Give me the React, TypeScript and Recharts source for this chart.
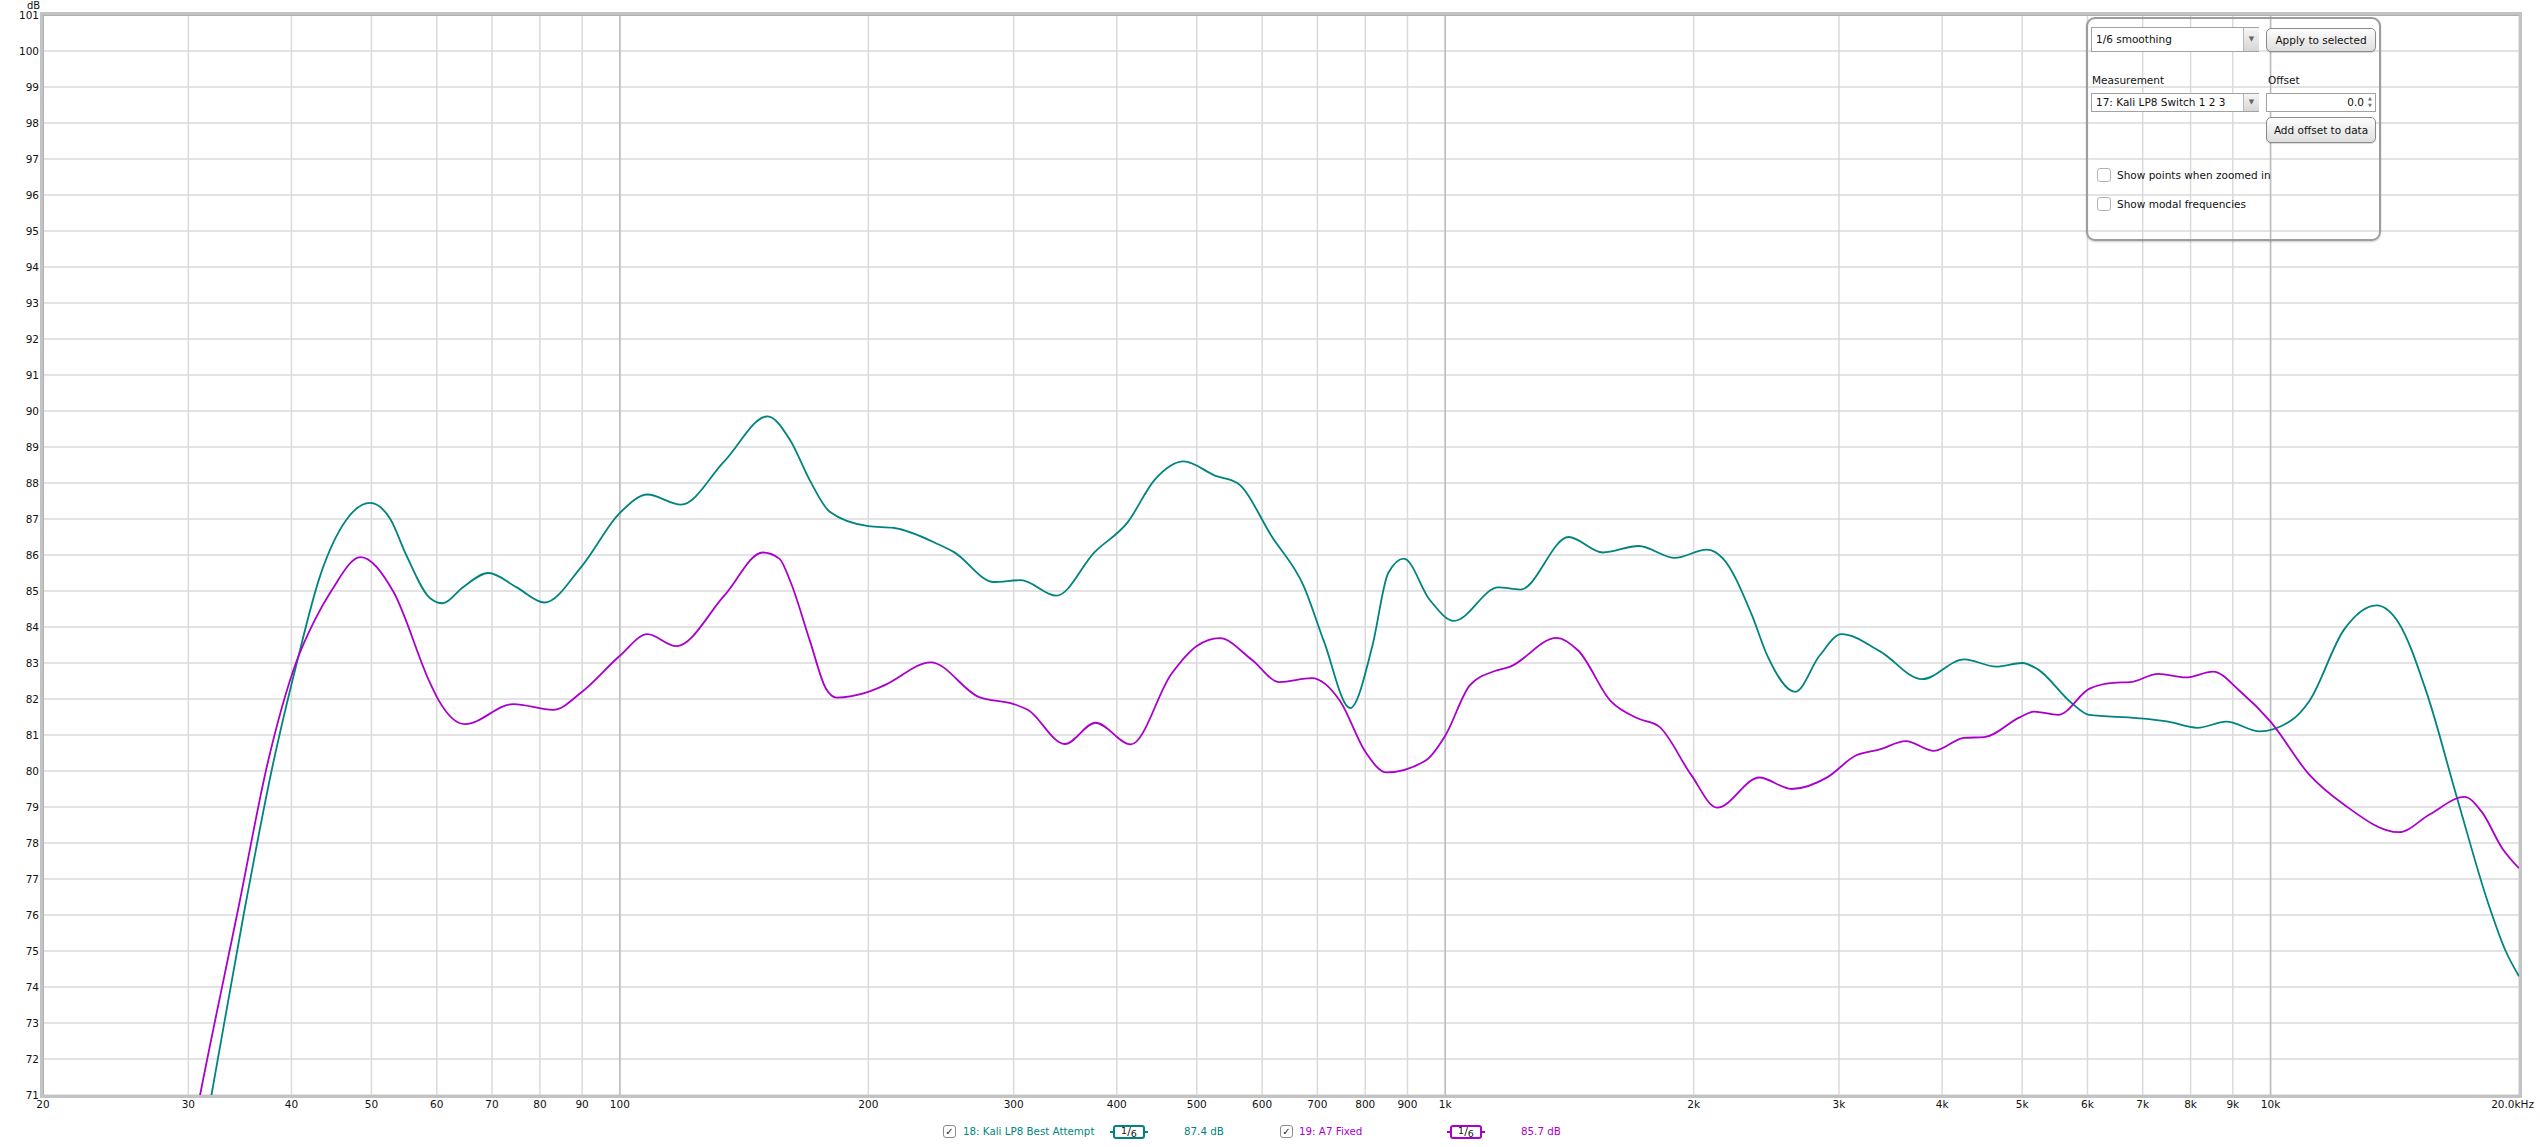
import React from 'react';
import { LineChart, Line, XAxis, YAxis, CartesianGrid, ReferenceLine } from 'recharts';

const kaliFreq = [30, 32, 35, 38, 40.6, 43.3, 46.7, 49.8, 52.7, 55.1, 58.9, 61, 64.5, 69.3, 75, 81, 90, 100, 108, 118.6, 133.8, 151, 160.7, 170, 179.6, 200, 215, 243, 254, 284, 306, 338, 376, 412, 445, 482, 527, 560, 617, 674, 713, 767, 816, 853, 891, 958, 1025, 1160, 1233, 1411, 1552, 1716, 1898, 2075, 2171, 2349, 2457, 2656, 2841, 3021, 3361, 3782, 4253, 4652, 5000, 5220, 5745, 6027, 6894, 7516, 8155, 8845, 9697, 10630, 11140, 12270, 13440, 14310, 15450, 16850, 18370, 19270, 20000];
const kaliDb = [67.5, 71.0, 76.0, 80.2, 83.0, 85.4, 87.0, 87.45, 87.0, 86.0, 84.8, 84.66, 85.1, 85.5, 85.1, 84.68, 85.7, 87.17, 87.68, 87.4, 88.6, 89.85, 89.2, 88.06, 87.2, 86.8, 86.75, 86.3, 86.08, 85.25, 85.3, 84.87, 86.08, 86.9, 88.1, 88.6, 88.2, 88.0, 86.5, 85.13, 83.6, 81.75, 83.47, 85.5, 85.9, 84.75, 84.17, 85.1, 85.04, 86.5, 86.07, 86.25, 85.92, 86.15, 85.9, 84.37, 83.2, 82.2, 83.2, 83.8, 83.33, 82.55, 83.1, 82.9, 83.0, 82.83, 81.88, 81.56, 81.47, 81.37, 81.2, 81.37, 81.1, 81.43, 81.94, 83.92, 84.6, 84.1, 82.19, 79.2, 76.3, 75.0, 74.3];

const a7Freq = [30, 31, 34.5, 37.5, 40.5, 42.7, 44.7, 48.5, 53.1, 58.9, 60.4, 64.9, 74.3, 83, 90, 100, 108, 117, 133.8, 149, 156, 161, 170, 177.6, 183, 200, 210, 238, 272, 300, 312, 346, 377, 416, 466, 500, 533, 583, 630, 689, 746, 800, 849, 948, 1000, 1071, 1146, 1199, 1364, 1450, 1587, 1716, 1815, 1985, 2135, 2402, 2627, 2906, 3143, 3361, 3614, 3910, 4253, 4498, 4966, 5170, 5530, 6027, 6447, 6766, 7307, 7891, 8518, 9198, 10000, 11140, 12270, 14310, 15600, 17180, 18020, 19090, 20000];
const a7Db = [69.3, 71.0, 76.2, 80.3, 83.0, 84.2, 85.0, 85.94, 85.0, 82.44, 81.94, 81.3, 81.86, 81.7, 82.2, 83.2, 83.8, 83.47, 84.87, 86.07, 85.9, 85.25, 83.6, 82.3, 82.04, 82.2, 82.4, 83.02, 82.06, 81.86, 81.7, 80.75, 81.34, 80.74, 82.7, 83.47, 83.69, 83.09, 82.47, 82.58, 81.94, 80.54, 79.96, 80.3, 80.98, 82.38, 82.77, 82.9, 83.7, 83.34, 81.94, 81.45, 81.24, 79.9, 78.98, 79.82, 79.5, 79.83, 80.43, 80.6, 80.83, 80.56, 80.92, 80.94, 81.49, 81.65, 81.56, 82.28, 82.45, 82.47, 82.7, 82.6, 82.76, 82.2, 81.37, 79.9, 79.07, 78.3, 78.8, 79.28, 78.87, 77.85, 77.3];

const freqTicks = [20, 30, 40, 50, 60, 70, 80, 90, 100, 200, 300, 400, 500, 600, 700, 800, 900, 1000, 2000, 3000, 4000, 5000, 6000, 7000, 8000, 9000, 10000, 20000];
const freqTickLabels = ['20', '30', '40', '50', '60', '70', '80', '90', '100', '200', '300', '400', '500', '600', '700', '800', '900', '1k', '2k', '3k', '4k', '5k', '6k', '7k', '8k', '9k', '10k', '20.0kHz'];
const dbTicks = [71, 72, 73, 74, 75, 76, 77, 78, 79, 80, 81, 82, 83, 84, 85, 86, 87, 88, 89, 90, 91, 92, 93, 94, 95, 96, 97, 98, 99, 100, 101];
const decadeLines = [100, 1000, 10000];

const seriesNames = ['18: Kali LP8 Best Attempt', '19: A7 Fixed'];
const seriesLevels = ['87.4 dB', '85.7 dB'];
const seriesColors = ['#00847f', '#aa00cc'];

const kaliData = kaliFreq.map((f, i) => ({ f, db: kaliDb[i] }));
const a7Data = a7Freq.map((f, i) => ({ f, db: a7Db[i] }));

const FONT = '"DejaVu Sans", Verdana, sans-serif';

const XTick = (props: any) => {
  const { x, y, payload } = props;
  const idx = freqTicks.indexOf(payload.value);
  const label = idx >= 0 ? freqTickLabels[idx] : String(payload.value);
  const last = payload.value === 20000;
  return (
    <text x={last ? x + 15 : x} y={y} dy="0.71em" textAnchor={last ? 'end' : 'middle'} fontSize={10.5} fontFamily={FONT} fill="#111">
      {label}
    </text>
  );
};

const YTick = (props: any) => {
  const { x, y, payload } = props;
  return (
    <text x={x} y={y} dy="0.36em" textAnchor="end" fontSize={10.5} fontFamily={FONT} fill="#111">
      {payload.value}
    </text>
  );
};

const abs = (left: number, top: number, extra: React.CSSProperties = {}): React.CSSProperties => ({
  position: 'absolute', left, top, ...extra,
});

const CheckBox = ({ left, top, checked }: { left: number; top: number; checked: boolean }) => (
  <div style={abs(left, top, { width: 13, height: 13, border: '1px solid #8c8c8c', borderRadius: 3, boxSizing: 'border-box', background: '#fff', fontSize: 10, lineHeight: '11px', textAlign: 'center', color: '#222', fontFamily: FONT })}>
    {checked ? '\u2713' : ''}
  </div>
);

const SmoothBox = ({ left, color }: { left: number; color: string }) => (
  <div style={abs(left, 1125, { width: 32, height: 14 })}>
    <div style={abs(-3, 6, { width: 4, height: 2, background: color })} />
    <div style={abs(31, 6, { width: 4, height: 2, background: color })} />
    <div style={abs(0, 0, { width: 32, height: 14, border: `2px solid ${color}`, borderRadius: 3, boxSizing: 'border-box', background: '#fff', fontFamily: FONT, fontSize: 9.5, color: '#111', textAlign: 'center', lineHeight: '10px', whiteSpace: 'nowrap' })}>
      <span style={{ position: 'relative', top: -1 }}>1</span>
      <span style={{ fontSize: 11, position: 'relative', top: 0 }}>/</span>
      <span style={{ position: 'relative', top: 2 }}>6</span>
    </div>
  </div>
);

const btn: React.CSSProperties = {
  border: '1px solid #8a8a8a', borderRadius: 5, boxSizing: 'border-box',
  background: 'linear-gradient(#fdfdfd, #dedede)', fontFamily: FONT, fontSize: 10.5,
  color: '#111', textAlign: 'center', boxShadow: '0 1px 1px rgba(0,0,0,0.15)',
};

const Combo = ({ top, height, text }: { top: number; height: number; text: string }) => (
  <div style={abs(2091, top, { width: 168, height, border: '1px solid #a2a2a2', boxSizing: 'border-box', background: '#fff', fontFamily: FONT, fontSize: 10.5, color: '#111', lineHeight: `${height - 2}px` })}>
    <span style={{ paddingLeft: 4 }}>{text}</span>
    <div style={abs(151, 0, { width: 15, height: height - 2, borderLeft: '1px solid #b8b8b8', background: 'linear-gradient(#f6f6f6, #d6d6d6)', textAlign: 'center', fontSize: 7, color: '#666', lineHeight: `${height - 2}px` })}>{'\u25BC'}</div>
  </div>
);

export default function App() {
  return (
    <div style={{ position: 'absolute', left: 0, top: 0, width: 2540, height: 1147, background: '#fff', overflow: 'hidden' }}>
      <LineChart width={2540} height={1147} margin={{ top: 15, right: 21, bottom: 22, left: 3 }}>
        <CartesianGrid stroke="#dadada" strokeWidth={1.5} vertical horizontal />
        <XAxis
          dataKey="f"
          type="number"
          scale="log"
          domain={[20, 20000]}
          allowDataOverflow
          ticks={freqTicks}
          interval={0}
          height={30}
          tickSize={0}
          tickMargin={6}
          axisLine={false}
          tickLine={false}
          tick={<XTick />}
        />
        <YAxis
          type="number"
          domain={[71, 101]}
          allowDataOverflow
          ticks={dbTicks}
          interval={0}
          width={40}
          tickSize={0}
          tickMargin={4}
          axisLine={false}
          tickLine={false}
          tick={<YTick />}
        />
        {decadeLines.map((v) => (
          <ReferenceLine key={v} x={v} stroke="#bdbdbd" strokeWidth={1.5} />
        ))}
        <Line data={kaliData} dataKey="db" type="monotone" stroke={seriesColors[0]} strokeWidth={1.8} dot={false} activeDot={false} isAnimationActive={false} />
        <Line data={a7Data} dataKey="db" type="monotone" stroke={seriesColors[1]} strokeWidth={1.8} dot={false} activeDot={false} isAnimationActive={false} />
      </LineChart>

      {/* plot frame */}
      <div style={abs(40, 12, { width: 2482, height: 1086, border: '3px solid #c3c3c3', boxSizing: 'border-box', pointerEvents: 'none', boxShadow: 'inset 1px 1px 0 #b0b0b0' })} />

      {/* y unit */}
      <div style={abs(27, 0, { fontFamily: FONT, fontSize: 10, color: '#111', lineHeight: '11px' })}>dB</div>

      {/* legend */}
      <CheckBox left={943} top={1125} checked />
      <div style={abs(963, 1124, { fontFamily: FONT, fontSize: 10.3, lineHeight: '14px', color: seriesColors[0], whiteSpace: 'nowrap' })}>{seriesNames[0]}</div>
      <SmoothBox left={1113} color={seriesColors[0]} />
      <div style={abs(1184, 1124, { fontFamily: FONT, fontSize: 10.3, lineHeight: '14px', color: seriesColors[0], whiteSpace: 'nowrap' })}>{seriesLevels[0]}</div>

      <CheckBox left={1280} top={1125} checked />
      <div style={abs(1299, 1124, { fontFamily: FONT, fontSize: 10.3, lineHeight: '14px', color: seriesColors[1], whiteSpace: 'nowrap' })}>{seriesNames[1]}</div>
      <SmoothBox left={1450} color={seriesColors[1]} />
      <div style={abs(1521, 1124, { fontFamily: FONT, fontSize: 10.3, lineHeight: '14px', color: seriesColors[1], whiteSpace: 'nowrap' })}>{seriesLevels[1]}</div>

      {/* control panel */}
      <div style={abs(2086, 17, { width: 295, height: 224, border: '2px solid #9c9c9c', borderRadius: 9, boxSizing: 'border-box', boxShadow: '0 1px 2px rgba(0,0,0,0.2)' })} />
      <Combo top={27} height={25} text="1/6 smoothing" />
      <div style={abs(2266, 28, { ...btn, width: 110, height: 24, lineHeight: '22px' })}>Apply to selected</div>
      <div style={abs(2092, 73, { fontFamily: FONT, fontSize: 10.5, color: '#111', lineHeight: '14px' })}>Measurement</div>
      <div style={abs(2268, 73, { fontFamily: FONT, fontSize: 10.5, color: '#111', lineHeight: '14px' })}>Offset</div>
      <Combo top={93} height={19} text="17: Kali LP8 Switch 1 2 3" />
      <div style={abs(2266, 93, { width: 110, height: 19, border: '1px solid #a2a2a2', boxSizing: 'border-box', background: '#fff', fontFamily: FONT, fontSize: 10.5, color: '#111', lineHeight: '17px', textAlign: 'right', paddingRight: 11 })}>
        0.0
        <div style={abs(99, 1, { width: 8, height: 15, fontSize: 5, lineHeight: '7px', color: '#777', textAlign: 'center' })}>
          {'\u25B2'}<br />{'\u25BC'}
        </div>
      </div>
      <div style={abs(2266, 117, { ...btn, width: 110, height: 26, lineHeight: '24px' })}>Add offset to data</div>
      <div style={abs(2097, 168, { width: 14, height: 14, border: '1px solid #b4b4b4', borderRadius: 3, boxSizing: 'border-box', background: '#fff' })} />
      <div style={abs(2117, 168, { fontFamily: FONT, fontSize: 10.5, color: '#111', lineHeight: '14px', whiteSpace: 'nowrap' })}>Show points when zoomed in</div>
      <div style={abs(2097, 197, { width: 14, height: 14, border: '1px solid #b4b4b4', borderRadius: 3, boxSizing: 'border-box', background: '#fff' })} />
      <div style={abs(2117, 197, { fontFamily: FONT, fontSize: 10.5, color: '#111', lineHeight: '14px', whiteSpace: 'nowrap' })}>Show modal frequencies</div>
    </div>
  );
}
